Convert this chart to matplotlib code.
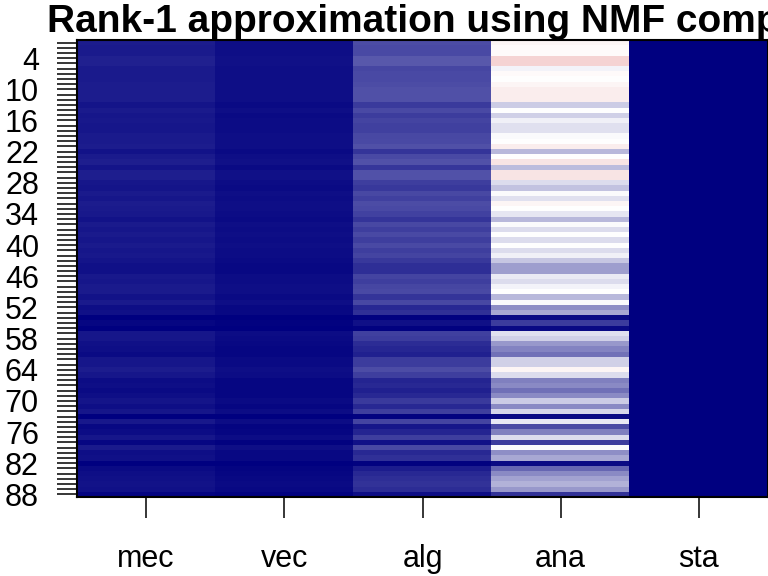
import numpy as np
import matplotlib
matplotlib.use("Agg")
import matplotlib.pyplot as plt
from matplotlib.colors import LinearSegmentedColormap

# NMF rank-1 factors: basis (one per student), coef (one per subject)
subjects = ["mec", "vec", "alg", "ana", "sta"]
coef = [0.106, 0.057, 0.29, 1.0, 0.0]
basis = [
    0.52, 0.51, 0.51, 0.60, 0.60, 0.48, 0.51, 0.50, 0.52, 0.54,
    0.54, 0.54, 0.40, 0.50, 0.41, 0.47, 0.44, 0.44, 0.49, 0.50,
    0.54, 0.36, 0.50, 0.56, 0.37, 0.56, 0.56, 0.43, 0.38, 0.49,
    0.44, 0.52, 0.50, 0.45, 0.36, 0.49, 0.43, 0.50, 0.43, 0.50,
    0.43, 0.47, 0.39, 0.31, 0.31, 0.46, 0.43, 0.48, 0.50, 0.36,
    0.49, 0.28, 0.33, 0.02, 0.12, 0.02, 0.44, 0.41, 0.30, 0.26,
    0.22, 0.41, 0.41, 0.52, 0.43, 0.25, 0.27, 0.22, 0.27, 0.40,
    0.27, 0.42, 0.02, 0.46, 0.15, 0.25, 0.43, 0.12, 0.49, 0.28,
    0.33, 0.02, 0.20, 0.27, 0.32, 0.35, 0.30, 0.10,
]
row_labels = list(range(4, 89, 6))

approx = np.outer(basis, coef)
n_rows = len(basis)

cmap = LinearSegmentedColormap.from_list("nwf", ["navy", "white", "#CD2626"])
plt.rcParams["font.family"] = ["Liberation Sans", "DejaVu Sans"]

fig = plt.figure(figsize=(7.68, 5.76), dpi=100)
ax = fig.add_axes([77 / 768, 1 - 497 / 576, 691 / 768, 457 / 576])
ax.imshow(approx, cmap=cmap, vmin=0, vmax=1, aspect="auto",
          interpolation="nearest",
          extent=(0.5, len(subjects) + 0.5, n_rows + 0.5, 0.5))
ax.set_xlim(0.5, len(subjects) + 0.5)
ax.set_ylim(n_rows + 0.5, 0.5)

rows = np.arange(1, n_rows + 1)
ax.set_yticks(rows)
ax.set_yticklabels([str(r) if r in row_labels else "" for r in rows])
ax.set_xticks(np.arange(1, len(subjects) + 1))
ax.set_xticklabels(subjects)
ax.tick_params(axis="y", length=14.4, width=1.1, pad=13, labelsize=22)
ax.tick_params(axis="x", length=15, width=1.1, pad=19, labelsize=22)
for sp in ax.spines.values():
    sp.set_linewidth(1.5)

fig.text(47 / 768, 1 - 32 / 576, "Rank-1 approximation using NMF components",
         ha="left", va="baseline", fontsize=28, fontweight="bold")

fig.savefig("out.png", dpi=100)
